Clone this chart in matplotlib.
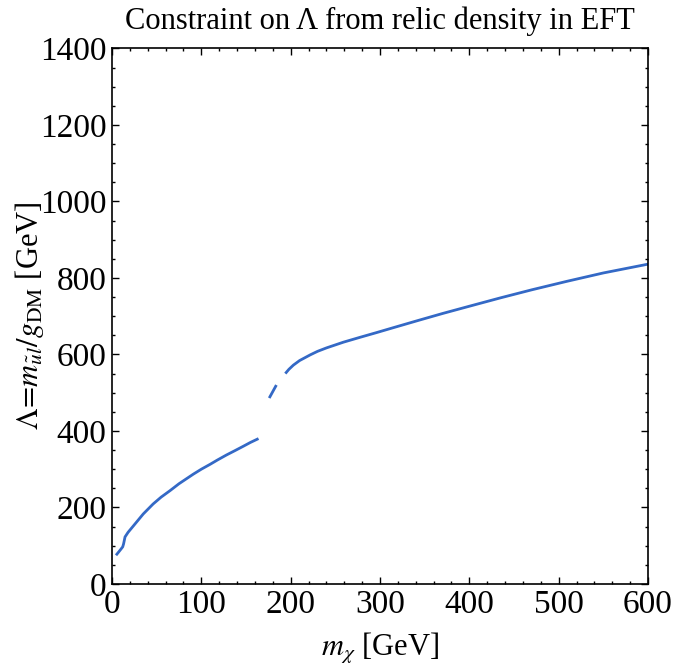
import matplotlib
matplotlib.use("Agg")
import matplotlib.pyplot as plt
from matplotlib.ticker import MultipleLocator

plt.rcParams["font.family"] = ["Liberation Serif", "DejaVu Serif"]
plt.rcParams["mathtext.fontset"] = "stix"

# Relic-density constraint on the EFT scale, three branches of the curve
seg1_x = [4.5, 9, 12, 13, 14.6, 18, 25.8, 35, 46, 55, 65, 75, 91, 100, 110,
          118, 128, 138, 147, 155, 164]
seg1_y = [75, 88, 97, 105, 123, 135, 157, 183, 209, 227, 244, 262, 287, 300, 313,
          324, 337, 349, 360, 370, 380]

seg2_x = [176, 180, 184]
seg2_y = [486, 503, 520]

seg3_x = [194, 198, 203, 210, 222, 230, 240, 259, 278, 296, 315, 343, 370, 400,
          435, 470, 509, 550, 600]
seg3_y = [550, 561, 572, 584, 599, 608, 617, 632, 645, 657, 670, 689, 707, 726,
          748, 769, 791, 813, 836]

x_ticks = [0, 100, 200, 300, 400, 500, 600]
y_ticks = [0, 200, 400, 600, 800, 1000, 1200, 1400]

line_color = "#3469c6"

fig = plt.figure(figsize=(6.73, 6.72), dpi=100)
ax = fig.add_axes([0.1664, 0.131, 0.7965, 0.797])

for xs, ys in [(seg1_x, seg1_y), (seg2_x, seg2_y), (seg3_x, seg3_y)]:
    ax.plot(xs, ys, color=line_color, lw=2.0, solid_capstyle="butt",
            solid_joinstyle="round")

ax.set_xlim(0, 600)
ax.set_ylim(0, 1400)
ax.set_xticks(x_ticks)
ax.set_yticks(y_ticks)
ax.xaxis.set_minor_locator(MultipleLocator(20))
ax.yaxis.set_minor_locator(MultipleLocator(50))
ax.tick_params(which="both", direction="in", top=True, right=True,
               labelsize=24, width=1.0, pad=4)
ax.tick_params(which="major", length=5)
ax.tick_params(which="minor", length=2.5)
for s in ax.spines.values():
    s.set_linewidth(1.2)

ax.set_title("Constraint on \u039b from relic density in EFT", fontsize=22, pad=14)
ax.set_xlabel(r"$m_\chi$ [GeV]", fontsize=22, labelpad=8)
ax.set_ylabel(r"$\Lambda\!=\!m_{\tilde{u}l}/g_{\mathrm{DM}}$ [GeV]", fontsize=22)
ax.yaxis.set_label_coords(-0.124, 0.5)

fig.savefig("out.png", dpi=100)
